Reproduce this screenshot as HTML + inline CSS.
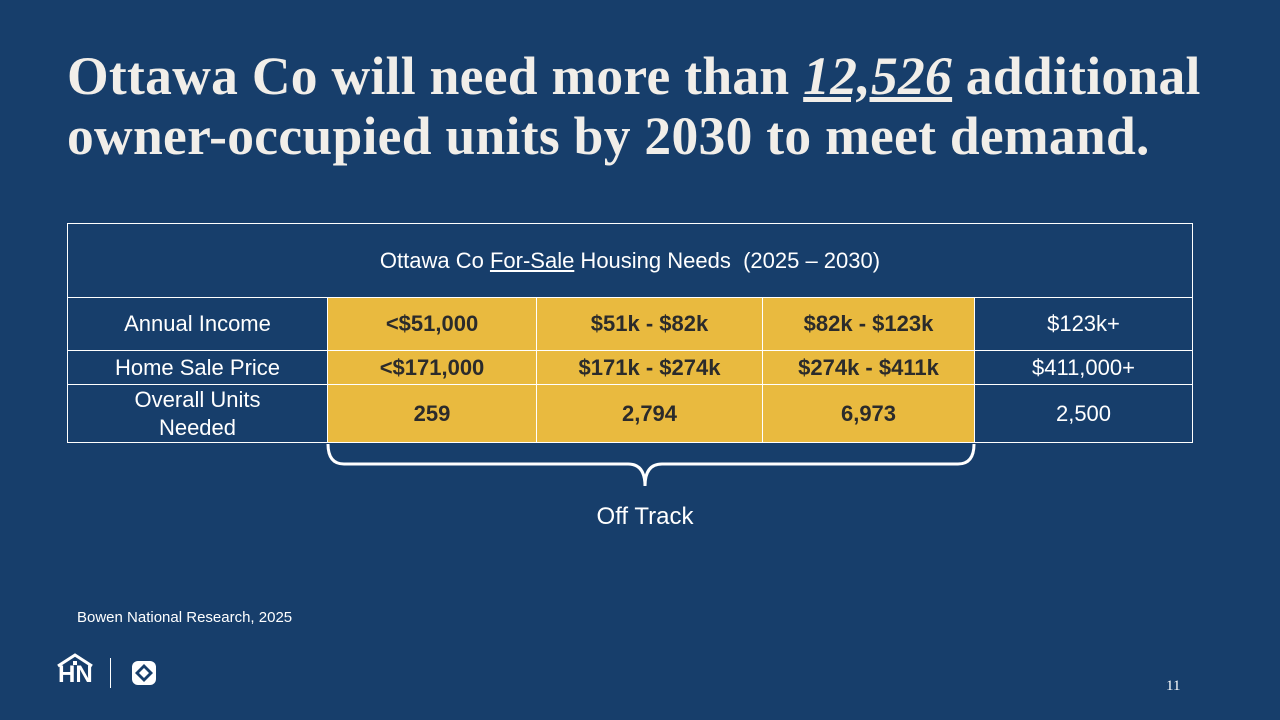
<!DOCTYPE html>
<html><head><meta charset="utf-8"><style>
body{margin:0;width:1280px;height:720px;background:#173e6b;position:relative;overflow:hidden;font-family:"Liberation Sans",sans-serif;color:#fff}
.t{position:absolute;left:67px;top:46px;font-family:"Liberation Serif",serif;font-weight:bold;font-size:53.5px;line-height:60px;color:#f1eee9;white-space:nowrap;letter-spacing:0.3px}
.c{position:absolute;box-sizing:border-box;border:1px solid #fff;display:flex;align-items:center;justify-content:center;text-align:center;font-size:22px;line-height:28px;color:#fff}
.y{background:#e9ba3f;color:#2b2b2b;font-weight:bold}
</style></head><body>
<div class="t">Ottawa Co will need more than <i><u>12,526</u></i> additional<br>owner-occupied units by 2030 to meet demand.</div>

<div class="c" style="left:67px;top:223px;width:1126px;height:75px;font-weight:300">Ottawa Co&nbsp;<u>For-Sale</u>&nbsp;Housing Needs &nbsp;(2025 – 2030)</div>

<div class="c" style="left:67px;top:297px;width:261px;height:54px;font-weight:300">Annual Income</div>
<div class="c y" style="left:327px;top:297px;width:210px;height:54px">&lt;$51,000</div>
<div class="c y" style="left:536px;top:297px;width:227px;height:54px">$51k - $82k</div>
<div class="c y" style="left:762px;top:297px;width:213px;height:54px">$82k - $123k</div>
<div class="c" style="left:974px;top:297px;width:219px;height:54px;font-weight:300">$123k+</div>

<div class="c" style="left:67px;top:350px;width:261px;height:35px;font-weight:300">Home Sale Price</div>
<div class="c y" style="left:327px;top:350px;width:210px;height:35px">&lt;$171,000</div>
<div class="c y" style="left:536px;top:350px;width:227px;height:35px">$171k - $274k</div>
<div class="c y" style="left:762px;top:350px;width:213px;height:35px">$274k - $411k</div>
<div class="c" style="left:974px;top:350px;width:219px;height:35px;font-weight:300">$411,000+</div>

<div class="c" style="left:67px;top:384px;width:261px;height:59px;font-weight:300">Overall Units<br>Needed</div>
<div class="c y" style="left:327px;top:384px;width:210px;height:59px">259</div>
<div class="c y" style="left:536px;top:384px;width:227px;height:59px">2,794</div>
<div class="c y" style="left:762px;top:384px;width:213px;height:59px">6,973</div>
<div class="c" style="left:974px;top:384px;width:219px;height:59px;font-weight:300">2,500</div>

<svg style="position:absolute;left:0;top:0" width="1280" height="720">
<path d="M328 444 Q328 464 344 464 L628 464 Q645 464 645 486 Q645 464 662 464 L958 464 Q974 464 974 444" fill="none" stroke="#fff" stroke-width="3"/>
</svg>
<div style="position:absolute;left:545px;top:503px;width:200px;text-align:center;font-size:24px">Off Track</div>

<div style="position:absolute;left:77px;top:609px;font-size:15px;font-weight:300">Bowen National Research, 2025</div>

<div style="position:absolute;left:56px;top:652px;width:38px;height:36px">
<svg width="38" height="36"><path d="M2 14 L19 3 L36 14" fill="none" stroke="#fff" stroke-width="3"/><rect x="17" y="9" width="4" height="4" fill="#fff"/></svg>
<div style="position:absolute;left:2px;top:10px;font-size:24px;font-weight:bold;line-height:26px">HN</div></div>
<div style="position:absolute;left:110px;top:658px;width:1px;height:30px;background:#fff"></div>
<svg style="position:absolute;left:130px;top:659px" width="28" height="28">
<rect x="2" y="2" width="24" height="24" rx="6" fill="#fff"/><path d="M14 5 L23 14 L14 23 L5 14 Z" fill="#173e6b"/><path d="M14 9 L19 14 L14 19 L9 14 Z" fill="#fff"/></svg>

<div style="position:absolute;left:1166px;top:678px;font-family:'Liberation Serif',serif;font-size:15px">11</div>
</body></html>
